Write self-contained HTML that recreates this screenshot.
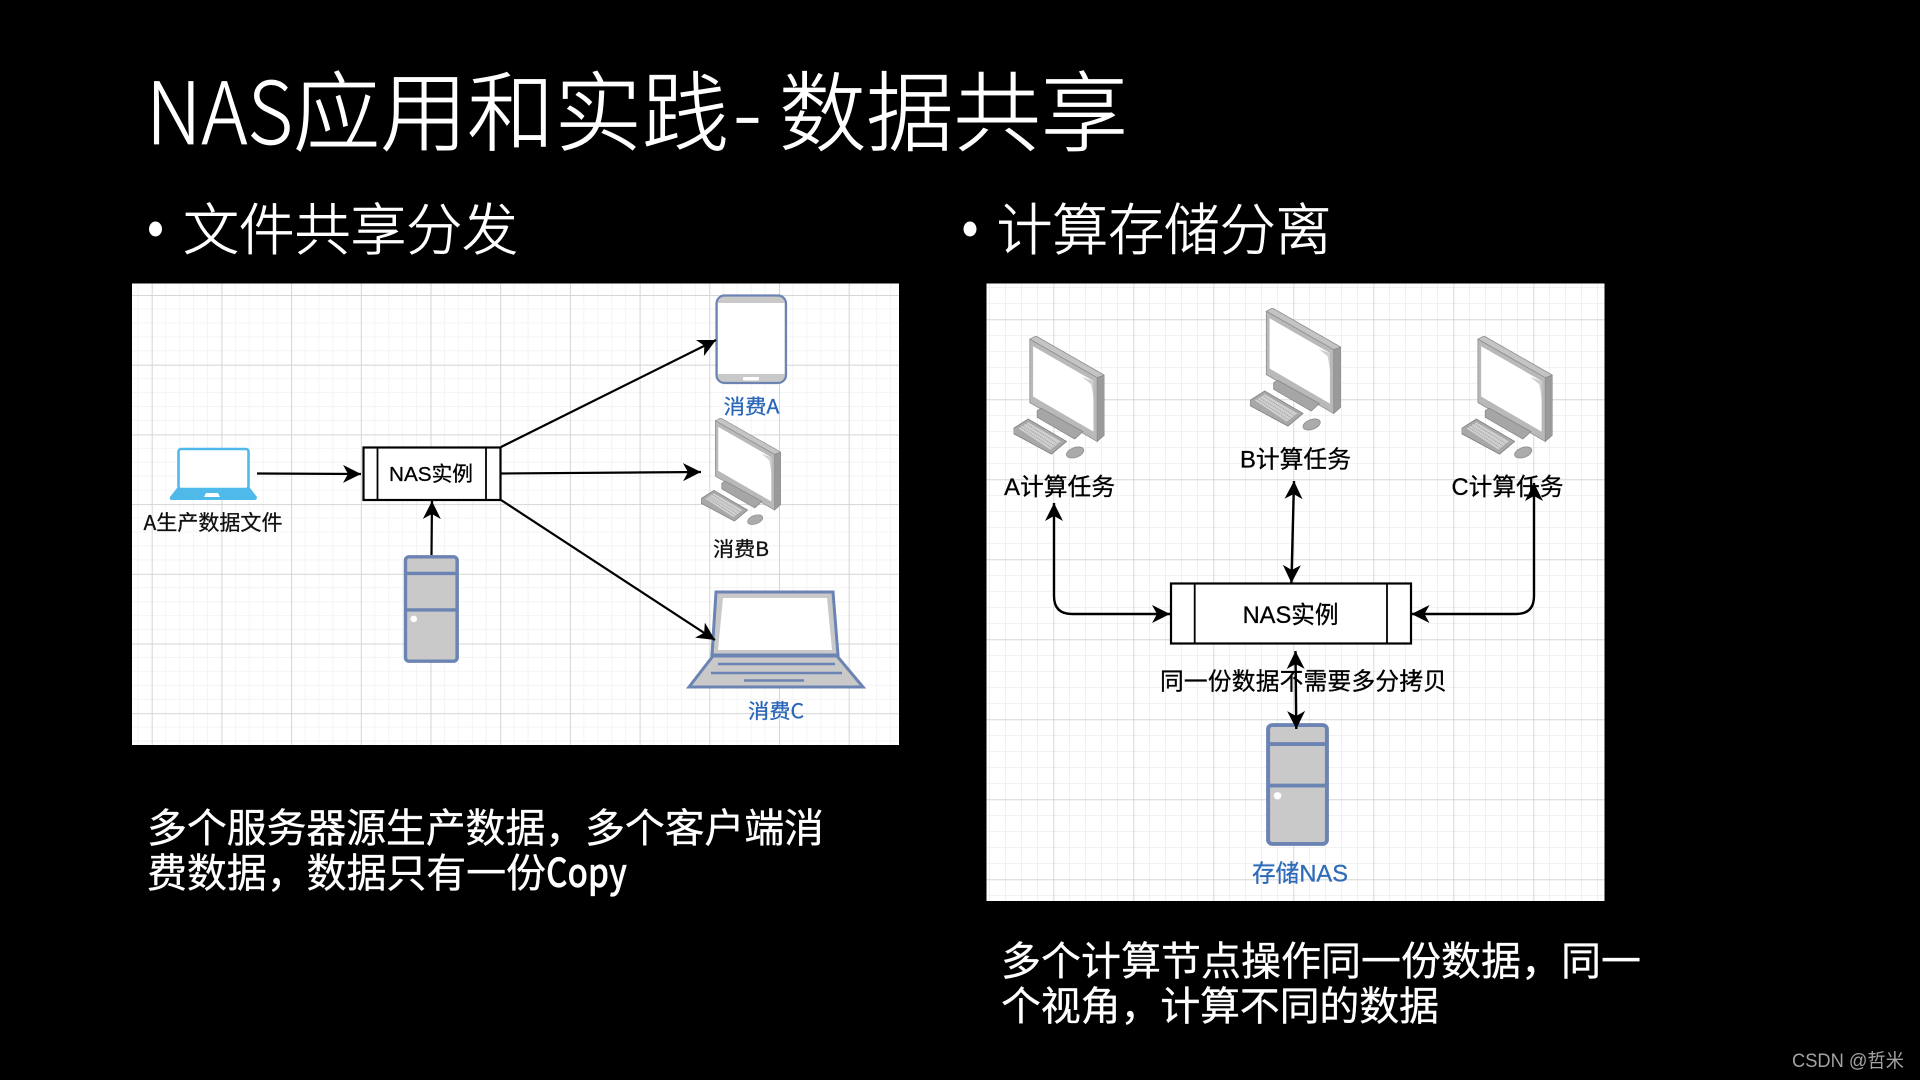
<!DOCTYPE html>
<html><head><meta charset="utf-8"><title>NAS应用和实践</title>
<style>
html,body{margin:0;padding:0;background:#000;width:1920px;height:1080px;overflow:hidden}
svg{display:block}
.c{font-family:"Noto Sans CJK SC","Liberation Sans",sans-serif}
.l{font-family:"Liberation Sans","Noto Sans CJK SC",sans-serif}
.t{font-weight:300;fill:#fff;stroke:#fff;stroke-width:.7px}
.s{stroke:currentColor;stroke-width:.3px}
</style></head><body>
<svg width="1920" height="1080" viewBox="0 0 1920 1080" xmlns="http://www.w3.org/2000/svg">
<defs>
<pattern id="g1" x="151.7" y="295" width="69.7" height="69.7" patternUnits="userSpaceOnUse">
  <path d="M13.94 0V69.7M27.88 0V69.7M41.82 0V69.7M55.76 0V69.7M0 13.94H69.7M0 27.88H69.7M0 41.82H69.7M0 55.76H69.7" stroke="#f4f4f4" stroke-width="1" fill="none"/>
  <path d="M0 0V69.7M0 0H69.7" stroke="#d6d6d6" stroke-width="2" fill="none"/>
</pattern>
<pattern id="g2" x="1053.5" y="319.4" width="80" height="80" patternUnits="userSpaceOnUse">
  <path d="M16 0V80M32 0V80M48 0V80M64 0V80M0 16H80M0 32H80M0 48H80M0 64H80" stroke="#f0f0f0" stroke-width="1" fill="none"/>
  <path d="M0 0V80M0 0H80" stroke="#c9c9c9" stroke-width="1.4" fill="none"/>
</pattern>
<marker id="a" markerUnits="userSpaceOnUse" markerWidth="20" markerHeight="18" refX="18" refY="9" orient="auto-start-reverse">
  <path d="M0 0L18 9L0 18L5 9Z" fill="#000"/>
</marker>
<symbol id="mon" viewBox="82 162 223 300" preserveAspectRatio="none">
  <polygon points="122,170 137,162 305,258 287,264" fill="#c4c4c4" stroke="#8f8f8f" stroke-width="2"/>
  <polygon points="287,264 305,258 305,404 287,420" fill="#9a9a9a" stroke="#8a8a8a" stroke-width="2"/>
  <polygon points="122,170 287,264 287,420 122,325" fill="#b9b9b9" stroke="#8f8f8f" stroke-width="2"/>
  <polygon points="130,187 278,272 278,396 130,310" fill="#fff"/>
  <path d="M272 280Q262 272 250 262L278 272V318Q276 296 272 280Z" fill="#cfcfcf"/>
  <polygon points="140,345 150,339 252,396 232,414 140,361" fill="#a6a6a6" stroke="#888" stroke-width="2"/>
  <polygon points="82,388 118,365 212,420 175,451 82,401" fill="#a8a8a8" stroke="#808080" stroke-width="2"/>
  <polygon points="94,388 118,373 198,420 172,440" fill="#cfcfcf"/>
  <path d="M105 381L182 430M112 376L190 425M99 385L176 435" stroke="#9a9a9a" stroke-width="2" stroke-dasharray="3 2" fill="none"/>
  <ellipse cx="233" cy="447" rx="22" ry="12" transform="rotate(-20 233 447)" fill="#ababab" stroke="#8e8e8e" stroke-width="2"/>
</symbol>
<symbol id="srv" viewBox="0 0 60 120" preserveAspectRatio="none">
  <rect x="2" y="2" width="56" height="116" rx="4" fill="#c9c9c9" stroke="#6b84b3" stroke-width="3.8"/>
  <path d="M2 20.5H58M2 61H58" stroke="#6b84b3" stroke-width="3.8"/>
  <ellipse cx="11" cy="71" rx="3.6" ry="3.6" fill="#fff"/>
</symbol>
</defs>

<rect width="1920" height="1080" fill="#000"/>

<!-- Title -->
<text class="c t" x="146" y="144" font-size="86" textLength="147" lengthAdjust="spacingAndGlyphs">NAS</text>
<text class="c t" x="293" y="144" font-size="87" textLength="436" lengthAdjust="spacingAndGlyphs">应用和实践</text>
<text class="c t" x="733" y="144" font-size="86">-</text>
<text class="c t" x="779" y="144" font-size="87" textLength="349" lengthAdjust="spacingAndGlyphs">数据共享</text>

<!-- Bullets -->
<ellipse cx="155.500" cy="229" rx="6.500" ry="7.500" fill="#fff"/>
<text class="c t" x="183" y="250" font-size="56" textLength="335" lengthAdjust="spacing">文件共享分发</text>
<ellipse cx="970" cy="229" rx="6.500" ry="7.500" fill="#fff"/>
<text class="c t" x="996.500" y="250" font-size="56" textLength="335" lengthAdjust="spacing">计算存储分离</text>

<!-- Left panel -->
<g style="filter:blur(.35px)">
<rect x="132" y="283.500" width="767" height="461.500" fill="#fff"/>
<rect x="132" y="283.500" width="767" height="461.500" fill="url(#g1)"/>

<!-- blue laptop -->
<rect x="178.500" y="449" width="70" height="40" rx="2.500" fill="#fff" stroke="#4fb9ea" stroke-width="2.600"/>
<path d="M177 488H250L257 497Q257 500 254 500H172Q169 500 170 497Z" fill="#4fb9ea"/>
<polygon points="206,493 218,493 220,497 204,497" fill="#fff"/>
<text class="c s" x="213" y="530" font-size="20.800" text-anchor="middle" fill="#111" color="#111" textLength="139" lengthAdjust="spacingAndGlyphs">A生产数据文件</text>

<!-- NAS box -->
<rect x="363.500" y="447.500" width="137" height="52.500" fill="#fff" stroke="#000" stroke-width="2.200"/>
<path d="M377.500 447.500V500M486 447.500V500" stroke="#000" stroke-width="1.800"/>
<text class="l s" x="431" y="481" font-size="20.500" text-anchor="middle" fill="#000" color="#000" textLength="84" lengthAdjust="spacingAndGlyphs">NAS实例</text>

<!-- server -->
<use href="#srv" x="403.600" y="555" width="55.400" height="108"/>

<!-- phone -->
<rect x="716.500" y="295.500" width="69.500" height="87.500" rx="8" fill="#c9c9c9" stroke="#6b84b3" stroke-width="2.200"/>
<rect x="718" y="303" width="66.500" height="71" fill="#fff"/>
<rect x="743" y="377" width="16" height="3.400" rx="1" fill="#fff"/>
<text class="c s" x="751.500" y="413.500" font-size="20" text-anchor="middle" fill="#2a66b8" color="#2a66b8" textLength="56" lengthAdjust="spacingAndGlyphs">消费A</text>

<!-- monitor B -->
<use href="#mon" x="701" y="418" width="80" height="107"/>
<text class="c s" x="741" y="556" font-size="20" text-anchor="middle" fill="#111" color="#111" textLength="56" lengthAdjust="spacingAndGlyphs">消费B</text>

<!-- laptop C -->
<polygon points="716,592 833,592 838,655 712,655" fill="#c9c9c9" stroke="#6b84b3" stroke-width="3"/>
<polygon points="723,598 827,598 832,650 718,650" fill="#fff" />
<polygon points="713,656 837,656 863,687 689,687" fill="#c9c9c9" stroke="#6b84b3" stroke-width="3"/>
<path d="M718 664H835M711 673H842M744 680.500H804" stroke="#6b84b3" stroke-width="2.600"/>
<text class="c s" x="776" y="718" font-size="20" text-anchor="middle" fill="#2a66b8" color="#2a66b8" textLength="56" lengthAdjust="spacingAndGlyphs">消费C</text>

<!-- left arrows -->
<g stroke="#000" stroke-width="2.200" fill="none">
<path d="M257 473.500L361 474" marker-end="url(#a)"/>
<path d="M501 447L716 340" marker-end="url(#a)"/>
<path d="M501 473.500L701 472" marker-end="url(#a)"/>
<path d="M501 500L715 640" marker-end="url(#a)"/>
<path d="M431.500 555L432 501" marker-end="url(#a)"/>
</g>

<!-- Right panel -->
<rect x="986.500" y="283.500" width="618" height="617.500" fill="#fff"/>
<rect x="986.500" y="283.500" width="618" height="617.500" fill="url(#g2)"/>

<use href="#mon" x="1013.500" y="336" width="91" height="122.600"/>
<use href="#mon" x="1250" y="308" width="91" height="122.600"/>
<use href="#mon" x="1461.600" y="336" width="91" height="122.600"/>

<text class="l s" x="1059.600" y="495" font-size="24" text-anchor="middle" fill="#000" color="#000" textLength="111" lengthAdjust="spacingAndGlyphs">A计算任务</text>
<text class="l s" x="1295.500" y="467.500" font-size="24" text-anchor="middle" fill="#000" color="#000" textLength="111" lengthAdjust="spacingAndGlyphs">B计算任务</text>
<text class="l s" x="1507.500" y="495" font-size="24" text-anchor="middle" fill="#000" color="#000" textLength="112" lengthAdjust="spacingAndGlyphs">C计算任务</text>

<rect x="1171" y="583.500" width="240" height="60" fill="#fff" stroke="#000" stroke-width="2.200"/>
<path d="M1194.700 583.500V643.500M1387 583.500V643.500" stroke="#000" stroke-width="1.800"/>
<text class="l s" x="1290.600" y="623" font-size="24" text-anchor="middle" fill="#000" color="#000" textLength="96" lengthAdjust="spacingAndGlyphs">NAS实例</text>

<use href="#srv" x="1266" y="723" width="63" height="123"/>
<text class="l s" x="1300" y="881.500" font-size="24" text-anchor="middle" fill="#2f6bb8" color="#2f6bb8" textLength="96" lengthAdjust="spacingAndGlyphs">存储NAS</text>

<g stroke="#000" stroke-width="2.400" fill="none">
<path d="M1054 503V596Q1054 614 1072 614H1170" marker-start="url(#a)" marker-end="url(#a)"/>
<path d="M1294 481L1291.400 583" marker-start="url(#a)" marker-end="url(#a)"/>
<path d="M1534 483V596Q1534 614 1516 614H1411.500" marker-start="url(#a)" marker-end="url(#a)"/>
<path d="M1295.500 651L1296.300 729" marker-start="url(#a)" marker-end="url(#a)"/>
</g>
<text class="c s" x="1160" y="689.500" font-size="23.700" fill="#000" color="#000" textLength="287" lengthAdjust="spacing">同一份数据不需要多分拷贝</text>
</g>

<!-- Body text -->
<g class="c s" fill="#fff" color="#fff" font-size="40">
<text x="147" y="842" textLength="677" lengthAdjust="spacing">多个服务器源生产数据，多个客户端消</text>
<text x="147" y="887" textLength="399" lengthAdjust="spacing">费数据，数据只有一份</text>
<text x="546" y="887" font-weight="500" textLength="81" lengthAdjust="spacingAndGlyphs">Copy</text>
<text x="1001" y="975" textLength="640" lengthAdjust="spacing">多个计算节点操作同一份数据，同一</text>
<text x="1001" y="1020" textLength="438" lengthAdjust="spacing">个视角，计算不同的数据</text>
</g>

<!-- Watermark -->
<text class="l" x="1792" y="1067" font-size="19" fill="#a3a3a3" textLength="112" lengthAdjust="spacingAndGlyphs">CSDN @哲米</text>
</svg>
</body></html>
